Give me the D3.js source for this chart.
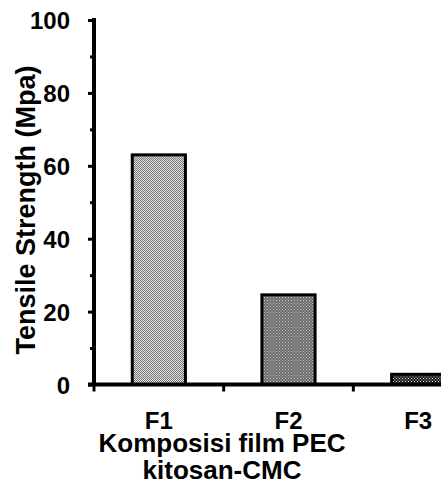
<!DOCTYPE html>
<html>
<head>
<meta charset="utf-8">
<script src="https://cdn.jsdelivr.net/npm/d3@7"></script>
<style>
  body { margin: 0; background: #fff; }
  text { font-family: "Liberation Sans", Arial, sans-serif; font-weight: bold; fill: #000; }
</style>
</head>
<body>
<div id="chart"></div>
<script>
const categories = ['F1', 'F2', 'F3'];
const tensile = [63.0, 24.6, 2.8];
const majorTicks = [0, 20, 40, 60, 80, 100];
const minorTicks = [10, 30, 50, 70, 90];

const width = 441;
const height = 485;

const svg = d3.select('#chart')
  .append('svg')
  .attr('width', width)
  .attr('height', height);

// bar fills, small dot patterns
const defs = svg.append('defs');
function dots(id, bg, dot, size) {
  const p = defs.append('pattern')
    .attr('id', id)
    .attr('patternUnits', 'userSpaceOnUse')
    .attr('width', size).attr('height', size);
  p.append('rect').attr('width', size).attr('height', size).attr('fill', bg);
  p.append('rect').attr('width', 1).attr('height', 1).attr('fill', dot);
  p.append('rect').attr('x', size / 2).attr('y', size / 2).attr('width', 1).attr('height', 1).attr('fill', dot);
}
dots('p1', '#e2e2e2', '#777', 2);
dots('p2', '#6a6a6a', '#c8c8c8', 3);
dots('p3', '#1a1a1a', '#ddd', 3);
const fills = ['url(#p1)', 'url(#p2)', 'url(#p3)'];

const x = d3.scaleBand()
  .domain(categories)
  .range([94, 483])
  .paddingInner(0.59)
  .paddingOuter(0.295);

const y = d3.scaleLinear()
  .domain([0, 100])
  .range([384.5, 20]);

svg.append('g')
  .selectAll('rect')
  .data(categories)
  .join('rect')
    .attr('x', d => x(d))
    .attr('y', (d, i) => y(tensile[i]))
    .attr('width', x.bandwidth())
    .attr('height', (d, i) => y(0) - y(tensile[i]))
    .attr('fill', (d, i) => fills[i])
    .attr('stroke', '#000')
    .attr('stroke-width', 3);

// y axis
const yAxis = svg.append('g')
  .attr('transform', 'translate(94,0)')
  .call(d3.axisLeft(y).tickValues(majorTicks).tickSize(6).tickPadding(18).tickFormat(d3.format('d')));
yAxis.select('.domain').attr('stroke-width', 4).attr('d', `M0,${y(100) - 2}V${y(0)}`);
yAxis.selectAll('.tick line').attr('stroke-width', 3);
yAxis.selectAll('.tick text').attr('font-size', 24).attr('font-family', null).attr('dy', '0.36em');

svg.append('g')
  .attr('transform', 'translate(94,0)')
  .call(d3.axisLeft(y).tickValues(minorTicks).tickSize(4).tickFormat(''))
  .call(g => g.select('.domain').remove())
  .selectAll('.tick line').attr('stroke-width', 3);

// x axis
const step = x.step();
const bounds = d3.range(categories.length + 1).map(i => x.range()[0] + i * step);
svg.append('line')
  .attr('x1', 88).attr('x2', width)
  .attr('y1', y(0)).attr('y2', y(0))
  .attr('stroke', '#000').attr('stroke-width', 4);
svg.append('g')
  .selectAll('line')
  .data(bounds)
  .join('line')
    .attr('x1', d => d).attr('x2', d => d)
    .attr('y1', y(0)).attr('y2', y(0) + 7)
    .attr('stroke', '#000').attr('stroke-width', 3);

const xAxis = svg.append('g')
  .attr('transform', `translate(0,${y(0)})`)
  .call(d3.axisBottom(x).tickSize(0).tickPadding(27));
xAxis.select('.domain').remove();
xAxis.selectAll('.tick text').attr('font-size', 24).attr('font-family', null);

// titles
svg.append('text')
  .attr('transform', 'translate(35,210) rotate(-90)')
  .attr('text-anchor', 'middle')
  .attr('font-size', 27)
  .text('Tensile Strength (Mpa)');

const xt = svg.append('text')
  .attr('text-anchor', 'middle')
  .attr('font-size', 26);
xt.append('tspan').attr('x', 222).attr('y', 452).text('Komposisi film PEC');
xt.append('tspan').attr('x', 222).attr('y', 479).text('kitosan-CMC');
</script>
</body>
</html>
